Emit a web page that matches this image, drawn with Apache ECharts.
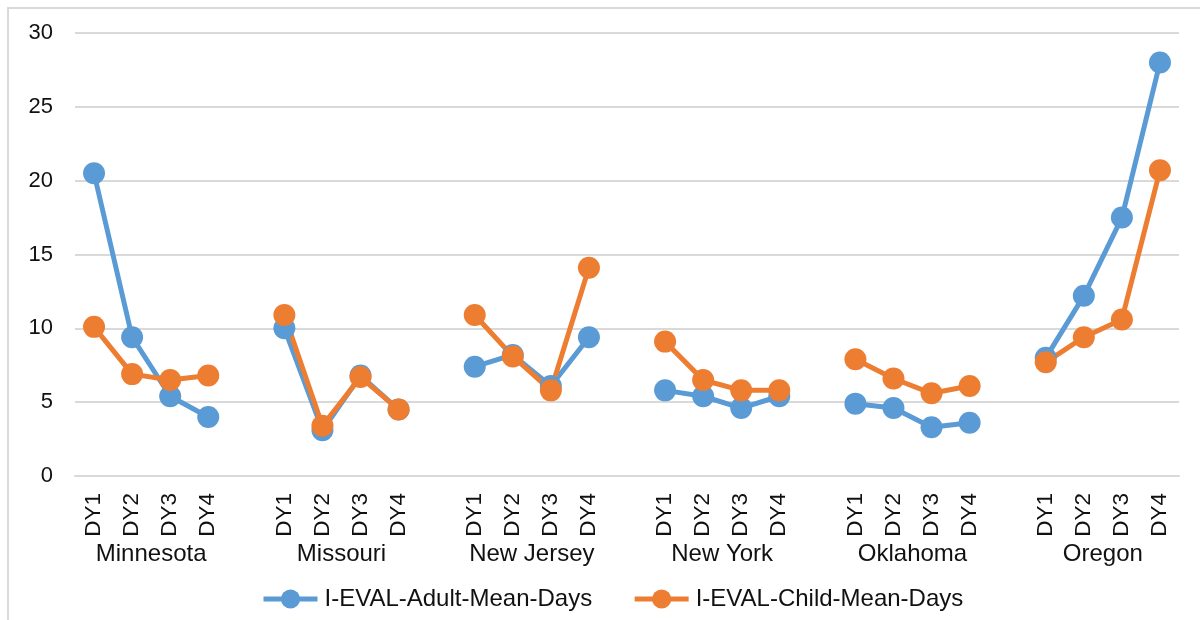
<!DOCTYPE html>
<html>
<head>
<meta charset="utf-8">
<title>I-EVAL mean days by state</title>
<script src="https://cdn.jsdelivr.net/npm/echarts@6/dist/echarts.min.js"></script>
<style>
  html, body { margin: 0; padding: 0; background: #fff; }
  #chart { width: 1200px; height: 620px; }
</style>
</head>
<body>
<div id="chart"></div>
<script>
const states = ['Minnesota', 'Missouri', 'New Jersey', 'New York', 'Oklahoma', 'Oregon'];
const years = ['DY1', 'DY2', 'DY3', 'DY4'];

// one row per state, DY1..DY4
const adultDays = [
  [20.5, 9.4, 5.4, 4.0],
  [10.0, 3.1, 6.8, 4.5],
  [7.4, 8.2, 6.1, 9.4],
  [5.8, 5.4, 4.6, 5.4],
  [4.9, 4.6, 3.3, 3.6],
  [8.0, 12.2, 17.5, 28.0]
];
const childDays = [
  [10.1, 6.9, 6.5, 6.8],
  [10.9, 3.4, 6.7, 4.5],
  [10.9, 8.1, 5.8, 14.1],
  [9.1, 6.5, 5.8, 5.8],
  [7.9, 6.6, 5.6, 6.1],
  [7.7, 9.4, 10.6, 20.7]
];
const yTicks = [0, 5, 10, 15, 20, 25, 30];

// flatten with an empty slot between states so the lines break
function flatten(rows) {
  const out = [];
  rows.forEach((row, i) => {
    if (i > 0) out.push(null);
    row.forEach(v => out.push(v));
  });
  return out;
}
const categories = flatten(states.map(() => years)).map(c => c === null ? '' : c);
const groupCenters = states.map((s, i) => i * 5 + 1.5);

const font = 'Liberation Sans, Arial, sans-serif';
const textColor = '#111';
const blue = '#5B9BD5';
const orange = '#ED7D31';

const chart = echarts.init(document.getElementById('chart'));
chart.setOption({
  animation: false,
  textStyle: { fontFamily: font },
  graphic: [{
    type: 'rect',
    shape: { x: 8, y: 8, width: 1400, height: 800 },
    style: { fill: 'none', stroke: '#D9D9D9', lineWidth: 2 },
    silent: true
  }],
  grid: { left: 75, right: 21, top: 33, bottom: 144 },
  legend: {
    bottom: 4,
    left: 256,
    itemWidth: 54,
    itemHeight: 24,
    itemGap: 40,
    lineStyle: { width: 5 },
    textStyle: { fontSize: 24, color: textColor, fontFamily: font, padding: [0, 0, 0, 2] },
    data: ['I-EVAL-Adult-Mean-Days', 'I-EVAL-Child-Mean-Days']
  },
  xAxis: [{
    type: 'category',
    data: categories,
    boundaryGap: true,
    axisLine: { show: true, lineStyle: { color: '#D9D9D9', width: 2 } },
    axisTick: { show: false },
    axisLabel: { interval: 0, rotate: 90, margin: 17, fontSize: 22.5, color: textColor, fontFamily: font }
  }, {
    type: 'value',
    position: 'bottom',
    min: -0.5,
    max: categories.length - 0.5,
    axisLine: { show: false },
    axisTick: { show: false },
    splitLine: { show: false },
    axisLabel: {
      customValues: groupCenters,
      margin: 66,
      fontSize: 24,
      color: textColor,
      fontFamily: font,
      formatter: v => states[Math.round((v - 1.5) / 5)] || ''
    }
  }],
  yAxis: {
    type: 'value',
    min: yTicks[0],
    max: yTicks[yTicks.length - 1],
    interval: 5,
    axisLine: { show: false },
    axisTick: { show: false },
    splitLine: { lineStyle: { color: '#D9D9D9', width: 2 } },
    axisLabel: { margin: 22, fontSize: 22, color: textColor, fontFamily: font }
  },
  series: [{
    name: 'I-EVAL-Adult-Mean-Days',
    type: 'line',
    data: flatten(adultDays),
    symbol: 'circle',
    symbolSize: 22,
    lineStyle: { width: 5, color: blue },
    itemStyle: { color: blue },
    connectNulls: false
  }, {
    name: 'I-EVAL-Child-Mean-Days',
    type: 'line',
    data: flatten(childDays),
    symbol: 'circle',
    symbolSize: 22,
    lineStyle: { width: 5, color: orange },
    itemStyle: { color: orange },
    connectNulls: false
  }]
});
</script>
</body>
</html>
